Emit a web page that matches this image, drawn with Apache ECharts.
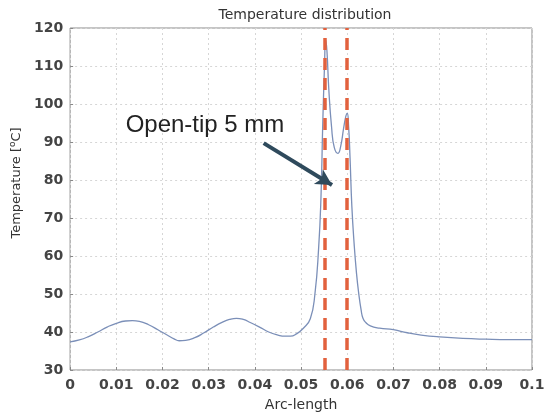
<!DOCTYPE html>
<html><head><meta charset="utf-8">
<script src="https://cdn.jsdelivr.net/npm/echarts@6/dist/echarts.min.js"></script>
<style>html,body{margin:0;padding:0;background:#fff}#c{width:557px;height:418px}</style>
</head><body><div id="c"></div>
<script>
const arcLength = [0,0.002,0.004,0.006,0.008,0.010,0.012,0.0135,0.015,0.017,0.019,0.021,0.0225,0.0236,0.025,0.027,0.029,0.031,0.033,0.0345,0.036,0.0375,0.039,0.041,0.043,0.045,0.0465,0.0477,0.049,0.0505,0.052,0.053,0.0538,0.0543,0.0547,0.0551,0.0553,0.0556,0.056,0.0566,0.0572,0.058,0.0586,0.0592,0.0597,0.0600,0.0603,0.0606,0.061,0.0615,0.062,0.0625,0.063,0.0634,0.064,0.065,0.067,0.070,0.073,0.076,0.080,0.085,0.090,0.095,0.100];
const temperature = [37.4,37.9,38.8,40.0,41.3,42.3,42.9,43.0,42.8,41.9,40.6,39.2,38.2,37.7,37.8,38.5,39.8,41.3,42.6,43.3,43.6,43.3,42.5,41.3,40.0,39.2,38.9,38.9,39.5,41.0,43.5,50,62,75,95,111,117,114,104,94,88.5,87,89,93.5,96.8,97.6,94,86,73,63,55.5,50,45.8,43.6,42.5,41.6,41.0,40.6,39.8,39.2,38.7,38.3,38.1,38.0,38.0];
const xTickLabels = ['0','0.01','0.02','0.03','0.04','0.05','0.06','0.07','0.08','0.09','0.1'];
const yTickLabels = ['30','40','50','60','70','80','90','100','110','120'];
const tipBounds = [0.0551, 0.0600];
const annotationText = 'Open-tip 5 mm';
const annotationPos = [0.0292, 94.5];
const arrowFrom = [0.0419, 89.7];
const arrowTo = [0.0567, 78.7];

const chart = echarts.init(document.getElementById('c'));
const font = 'DejaVu Sans';
const dashStyle = {color: '#e2613e', width: 3.5, type: [12, 8]};
chart.setOption({
  animation: false,
  title: {text: 'Temperature distribution', left: 300, textAlign: 'center', top: 3,
    textStyle: {fontFamily: font, fontSize: 14, fontWeight: 'normal', color: '#333'}},
  grid: {left: 68, right: 25, top: 28, bottom: 48, show: true, borderColor: '#8a8a8a', borderWidth: 1},
  xAxis: {type: 'value', min: 0, max: 0.1, interval: 0.01,
    name: 'Arc-length', nameLocation: 'middle', nameGap: 28,
    nameTextStyle: {fontFamily: font, fontSize: 14, color: '#333'},
    axisLine: {show: false}, axisTick: {inside: true, length: 3, lineStyle: {color: '#888'}},
    axisLabel: {fontFamily: font, fontSize: 14, fontWeight: 'bold', color: '#444', margin: 8,
      formatter: v => xTickLabels[Math.round(v / 0.01)]},
    splitLine: {lineStyle: {color: '#d6d6d6', type: [2, 3]}}},
  yAxis: {type: 'value', min: 30, max: 120, interval: 10,
    name: 'Temperature [{sup|o}C]', nameLocation: 'middle', nameGap: 31,
    nameTextStyle: {fontFamily: font, fontSize: 13, color: '#333', padding: [0, 0, 0, 32],
      rich: {sup: {fontFamily: font, fontSize: 9, color: '#333', padding: [0, 0, 8, 0]}}},
    axisLine: {show: false}, axisTick: {inside: true, length: 3, lineStyle: {color: '#888'}},
    axisLabel: {fontFamily: font, fontSize: 14, fontWeight: 'bold', color: '#444', margin: 7,
      formatter: v => yTickLabels[Math.round((v - 30) / 10)]},
    splitLine: {lineStyle: {color: '#d6d6d6', type: [2, 3]}}},
  series: [
    {type: 'line', data: arcLength.map((x, i) => [x, temperature[i]]), showSymbol: false,
     smooth: 0.5, lineStyle: {color: '#7b8fb8', width: 1.3}, z: 2},
    {type: 'line', data: [], z: 5,
     markLine: {silent: true, symbol: ['none', 'none'], animation: false,
       label: {show: false},
       data: [
         [{coord: [tipBounds[0], 30], lineStyle: dashStyle}, {coord: [tipBounds[0], 120]}],
         [{coord: [tipBounds[1], 30], lineStyle: dashStyle}, {coord: [tipBounds[1], 120]}],
         [{coord: arrowFrom, symbol: 'none', lineStyle: {color: '#2f4a5c', width: 4, type: 'solid'}},
          {coord: arrowTo, symbol: 'arrow', symbolSize: [13, 16]}]
       ]},
     markPoint: {silent: true, symbol: 'circle', symbolSize: 0,
       data: [{coord: annotationPos, value: annotationText,
         label: {show: true, position: 'inside', formatter: annotationText,
           fontFamily: 'Liberation Sans', fontSize: 24, color: '#222'}}]}}
  ]
});
</script></body></html>
